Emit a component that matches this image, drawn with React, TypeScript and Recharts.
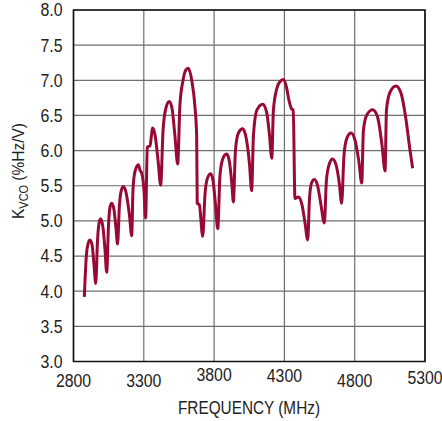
import React from "react";
import {
  LineChart,
  Line,
  XAxis,
  YAxis,
  CartesianGrid,
  ReferenceArea,
} from "recharts";

// frequency (MHz) and Kvco (%Hz/V)
const freqMHz = [
  2877, 2892, 2903, 2917, 2932, 2946, 2958,
  2971, 2981, 2993, 3010, 3024, 3036,
  3049, 3060, 3072, 3088, 3102, 3113,
  3127, 3141, 3156, 3173, 3198, 3214,
  3223, 3237, 3261, 3273, 3285, 3301, 3313,
  3325, 3344, 3363, 3380, 3401, 3420,
  3437, 3458, 3481, 3500, 3521, 3541,
  3557, 3579, 3600, 3616, 3641, 3664, 3676, 3680, 3695, 3719,
  3735, 3753, 3776, 3792, 3810, 3826,
  3842, 3863, 3890, 3909, 3927, 3937,
  3952, 3973, 4003, 4027, 4052, 4067,
  4080, 4105, 4146, 4173, 4194, 4210,
  4222, 4247, 4268, 4292, 4315, 4332, 4352, 4363, 4375, 4399, 4425, 4446, 4466,
  4478, 4493, 4513, 4535, 4560, 4584,
  4599, 4621, 4643, 4667, 4692, 4707,
  4724, 4745, 4774, 4802, 4830, 4850,
  4862, 4887, 4928, 4962, 4994, 5016,
  5026, 5051, 5094, 5129, 5165, 5193, 5212,
];

const kvco = [
  3.92, 4.52, 4.67, 4.73, 4.66, 4.37, 4.11,
  4.73, 4.96, 5.03, 4.9, 4.59, 4.27,
  4.94, 5.2, 5.25, 5.16, 4.9, 4.67,
  5.23, 5.44, 5.49, 5.41, 5.08, 4.79,
  5.44, 5.7, 5.8, 5.72, 5.68, 5.44, 5.04,
  6.05, 6.07, 6.32, 6.22, 5.87, 5.51,
  6.29, 6.61, 6.7, 6.61, 6.22, 5.81,
  6.65, 7.0, 7.15, 7.17, 7.0, 6.62, 6.2, 5.25, 5.23, 4.78,
  5.37, 5.61, 5.67, 5.58, 5.23, 4.89,
  5.65, 5.89, 5.95, 5.84, 5.51, 5.27,
  6.01, 6.25, 6.31, 6.19, 5.8, 5.43,
  6.22, 6.58, 6.66, 6.55, 6.22, 5.89,
  6.58, 6.89, 6.98, 7.01, 6.9, 6.72, 6.59, 6.58, 5.32, 5.34, 5.23, 4.98, 4.73,
  5.3, 5.54, 5.59, 5.51, 5.23, 4.97,
  5.58, 5.82, 5.88, 5.8, 5.51, 5.25,
  5.94, 6.18, 6.25, 6.15, 5.84, 5.54,
  6.29, 6.51, 6.58, 6.48, 6.08, 5.71,
  6.58, 6.83, 6.92, 6.82, 6.44, 6.01, 5.75,
];

const xTicks = [2800, 3300, 3800, 4300, 4800, 5300];
const yTicks = [3, 3.5, 4, 4.5, 5, 5.5, 6, 6.5, 7, 7.5, 8];

const data = freqMHz.map((f, i) => ({ f, v: kvco[i] }));

const FONT = "'Liberation Sans', Arial, sans-serif";
const INK = "#222";

// the original uses a condensed face, so squeeze the glyphs a bit
const squeeze = (s: string) => {
  let w = 0;
  for (const c of s) w += c === "." ? 4.5 : 8.8;
  return w;
};

// a few labels sit a little higher in the original
const xLift: Record<number, number> = { 3800: -6, 4300: -5, 5300: -3 };

const XTick = ({ x, y, payload }: any) => {
  const s = String(payload.value);
  return (
    <text x={x} y={y + (xLift[payload.value] || 0)} dy="0.71em" textAnchor="middle" fontSize={18}
      fill={INK} fontFamily={FONT} textLength={squeeze(s)} lengthAdjust="spacingAndGlyphs">
      {s}
    </text>
  );
};

const YTick = ({ x, y, payload }: any) => {
  const s = Number(payload.value).toFixed(1);
  return (
    <text x={x} y={y} dy="0.355em" textAnchor="end" fontSize={18} fill={INK} fontFamily={FONT}
      textLength={squeeze(s)} lengthAdjust="spacingAndGlyphs">
      {s}
    </text>
  );
};

export default function App() {
  return (
    <div style={{ position: "absolute", left: 0, top: 0, background: "#fff" }}>
      <LineChart
        width={442}
        height={421}
        data={data}
        margin={{ top: 10, right: 17, bottom: 0, left: 0 }}
      >
        <CartesianGrid stroke="#6e6e6e" strokeWidth={1.2} />
        <XAxis
          dataKey="f"
          type="number"
          domain={[2800, 5300]}
          ticks={xTicks}
          interval={0}
          axisLine={false}
          tickLine={false}
          tickSize={0}
          tickMargin={13}
          tick={<XTick />}
          height={59.5}
          label={{
            content: () => (
              <text x={249} y={408} dy="0.355em" textAnchor="middle" fontSize={18} fill={INK}
                fontFamily={FONT} textLength={142} lengthAdjust="spacingAndGlyphs">
                FREQUENCY (MHz)
              </text>
            ),
          }}
        />
        <YAxis
          type="number"
          domain={[3, 8]}
          ticks={yTicks}
          interval={0}
          axisLine={false}
          tickLine={false}
          tickSize={0}
          tickMargin={11}
          tick={<YTick />}
          width={73.5}
          label={{
            content: () => (
              <text
                x={24}
                y={171}
                transform="rotate(-90, 24, 171)"
                textAnchor="middle"
                fontSize={17}
                fill={INK}
                fontFamily={FONT}
                textLength={96}
                lengthAdjust="spacingAndGlyphs"
              >
                K
                <tspan fontSize={12} dy={4}>VCO</tspan>
                <tspan dy={-4}> (%Hz/V)</tspan>
              </text>
            ),
          }}
        />
        <ReferenceArea
          x1={2800}
          x2={5300}
          y1={3}
          y2={8}
          fill="none"
          stroke="#111"
          strokeWidth={1.6}
          ifOverflow="visible"
        />
        <Line
          type="monotone"
          dataKey="v"
          stroke="#980a33"
          strokeWidth={3}
          dot={false}
          isAnimationActive={false}
        />
      </LineChart>
    </div>
  );
}
